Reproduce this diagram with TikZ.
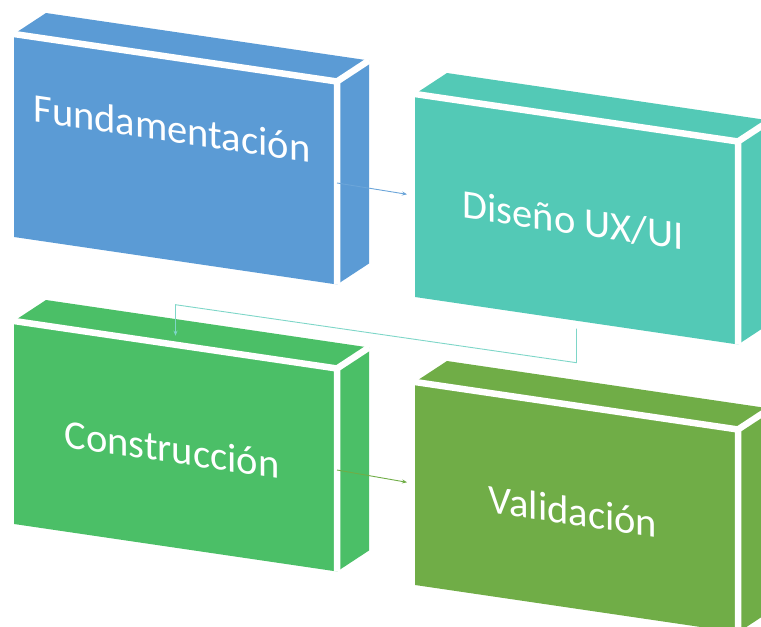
\documentclass[tikz,border=0pt]{standalone}
\usepackage{fontspec}
\setmainfont{Carlito}
\usetikzlibrary{arrows.meta,calc}
\definecolor{fundblue}{HTML}{5B9BD5}
\definecolor{disteal}{HTML}{53C9B6}
\definecolor{consgreen}{HTML}{4BBF67}
\definecolor{valolive}{HTML}{70AD47}

\newcommand{\cuboid}[6]{
  \begin{scope}[shift={(#2,#3)}]
    \fill[#4] (0,0) -- (323,47.5) -- (323,250.5) -- (0,203) -- cycle;
    \fill[#4] (0,0) -- (32,-21) -- (355,26.5) -- (323,47.5) -- cycle;
    \fill[#4] (323,47.5) -- (355,26.5) -- (355,229.5) -- (323,250.5) -- cycle;
    \draw[edge] (0,0) -- (323,47.5) -- (323,250.5) (323,47.5) -- (355,26.5);
    \node[boxtext] (#1) at (158,#6) {#5};
    \coordinate (#1-e) at (323,149);
    \coordinate (#1-w) at (-8,100.3);
    \coordinate (#1-s) at (161.5,234.7);
    \coordinate (#1-n) at (161.5,14.7);
  \end{scope}
}

\begin{document}
\begin{tikzpicture}[x=1pt,y=-1pt,
  edge/.style={white,line width=6.5pt},
  boxtext/.style={anchor=base,text=white,yslant=-0.147,inner sep=0pt,
    font=\fontsize{40.5}{48}\selectfont},
  flow/.style={#1,line width=0.9pt,-{Stealth[length=5pt,width=4pt]}}]
\useasboundingbox (0,0) rectangle (761,627);
\clip (0,0) rectangle (761,627);
\cuboid{fund}{14}{34}{fundblue}{Fundamentación}{108}
\cuboid{dis}{415}{94}{disteal}{Diseño UX/UI}{140}
\cuboid{cons}{14}{321}{consgreen}{Construcción}{142}
\cuboid{val}{415}{382}{valolive}{Validación}{143}
\draw[flow=fundblue!90] (fund-e) -- (dis-w);
\draw[flow=disteal!75] (dis-s) -- ++(0,34) -- ($(cons-n)+(0,-31)$) -- (cons-n);
\draw[flow=valolive] (cons-e) -- (val-w);
\end{tikzpicture}
\end{document}
